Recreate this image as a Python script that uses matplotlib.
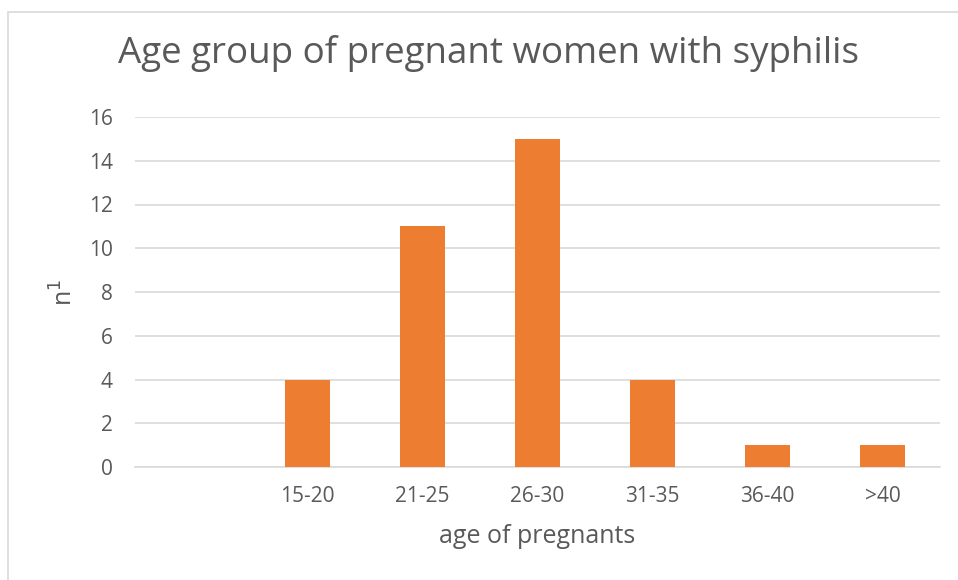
import matplotlib.pyplot as plt
from matplotlib.patches import Rectangle

# categories (first one is empty in the source chart)
categories = ['', '15-20', '21-25', '26-30', '31-35', '36-40', '>40']
counts = [0, 4, 11, 15, 4, 1, 1]
y_ticks = [0, 2, 4, 6, 8, 10, 12, 14, 16]

plt.rcParams['font.family'] = ['Open Sans', 'DejaVu Sans']
text_color = '#595959'
grid_color = '#d9d9d9'

fig = plt.figure(figsize=(9.58, 5.8), dpi=100)
ax = fig.add_axes([135 / 958, 1 - 467 / 580, 805 / 958, 350 / 580])

# outer chart frame
fig.patches.append(Rectangle((8 / 958, -0.05), 1.0, 1 - 12 / 580 + 0.05,
                             transform=fig.transFigure, fill=False,
                             edgecolor=grid_color, linewidth=1.2))

x = list(range(len(categories)))
ax.bar(x, counts, width=0.39, color='#ED7D31', zorder=3)

ax.set_xlim(-0.5, len(categories) - 0.5)
ax.set_ylim(0, 16)
ax.set_yticks(y_ticks)
ax.set_xticks(x)
ax.set_xticklabels(categories)
ax.yaxis.grid(True, color=grid_color, linewidth=1.2, zorder=0)
ax.tick_params(axis='both', length=0, labelsize=15, colors=text_color)
ax.tick_params(axis='x', pad=14)
ax.tick_params(axis='y', pad=16)

for side in ['top', 'right', 'left']:
    ax.spines[side].set_visible(False)
ax.spines['bottom'].set_color(grid_color)
ax.spines['bottom'].set_linewidth(1.2)

ax.set_xlabel('age of pregnants', fontsize=18, color=text_color, labelpad=12)
ax.set_ylabel('n$^1$', fontsize=18, color=text_color, labelpad=7)
fig.text(488 / 958, 1 - 53 / 580, 'Age group of pregnant women with syphilis',
         ha='center', va='center', fontsize=26.5, color=text_color)

plt.savefig('out.png', dpi=100)
